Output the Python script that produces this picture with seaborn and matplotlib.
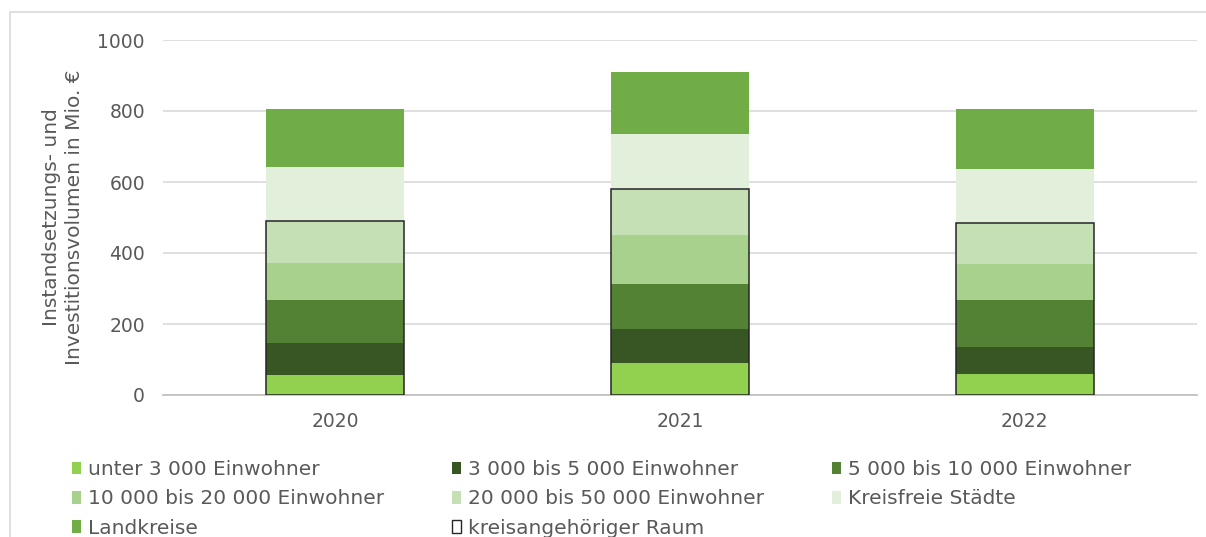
import matplotlib
matplotlib.use("Agg")
import matplotlib.pyplot as plt
from matplotlib.patches import Patch, Rectangle
import numpy as np
import pandas as pd
import seaborn as sns

# Data (Mio. €)
years = ["2020", "2021", "2022"]
unter_3000 = [56, 91, 59]
bis_5000 = [90, 94, 77]
bis_10000 = [122, 128, 132]
bis_20000 = [105, 138, 101]
bis_50000 = [118, 128, 115]
kreisfreie = [150, 155, 152]
landkreise = [166, 177, 171]

series_names = ["unter 3 000 Einwohner", "3 000 bis 5 000 Einwohner",
                "5 000 bis 10 000 Einwohner", "10 000 bis 20 000 Einwohner",
                "20 000 bis 50 000 Einwohner", "Kreisfreie Städte", "Landkreise"]
series_values = [unter_3000, bis_5000, bis_10000, bis_20000, bis_50000,
                 kreisfreie, landkreise]
colors = ["#92D050", "#375623", "#548235", "#A9D18E", "#C5E0B4", "#E2EFDA", "#70AD47"]
raum_name = "kreisangehöriger Raum"

sns.set_theme(style="white")
plt.rcParams['font.family'] = ['DejaVu Sans']
txt = "#595959"

fig = plt.figure(figsize=(12.06, 5.37), dpi=100)
ax = fig.add_axes([163 / 1206, 1 - 395 / 537, 1034 / 1206, 355 / 537])

# stacked bars
bottom = np.zeros(len(years))
for name, vals, col in zip(series_names, series_values, colors):
    df = pd.DataFrame({"Jahr": years, "Wert": vals})
    sns.barplot(data=df, x="Jahr", y="Wert", color=col, saturation=1,
                width=0.4, bottom=bottom, ax=ax, linewidth=0, zorder=3)
    bottom = bottom + np.array(vals)

# outline for kreisangehöriger Raum (first five groups)
raum = np.sum(series_values[:5], axis=0)
df_raum = pd.DataFrame({"Jahr": years, "Wert": raum})
sns.barplot(data=df_raum, x="Jahr", y="Wert", fill=False, width=0.4,
            edgecolor="#262626", linewidth=1.1, ax=ax, zorder=4)

ax.set_xlim(-0.5, 2.5)
ax.set_ylim(0, 1000)
ax.set_yticks([0, 200, 400, 600, 800, 1000])
ax.yaxis.grid(True, color="#D9D9D9", linewidth=1.2, zorder=0)
ax.set_axisbelow(True)
for s in ["top", "right", "left"]:
    ax.spines[s].set_visible(False)
ax.spines["bottom"].set_color("#BFBFBF")
ax.spines["bottom"].set_linewidth(1.2)
ax.tick_params(axis="both", length=0, labelsize=13.5, colors=txt)
ax.tick_params(axis="y", pad=13)
ax.tick_params(axis="x", pad=12)
ax.set_xlabel("")
ax.set_ylabel("Instandsetzungs- und\nInvestitionsvolumen in Mio. €",
              fontsize=14.5, color=txt, linespacing=1.3)
ax.yaxis.set_label_coords(-0.076, 0.5)

# legend, laid out in three columns like the reference
handles = [Patch(facecolor=c, edgecolor="none") for c in colors]
handles.append(Patch(facecolor="white", edgecolor="#262626", linewidth=1))
labels = series_names + [raum_name]
col_idx = [[0, 3, 6], [1, 4, 7], [2, 5]]
col_x = [72, 452, 832]
for idx, x in zip(col_idx, col_x):
    fig.legend([handles[i] for i in idx], [labels[i] for i in idx],
               loc="upper left", bbox_to_anchor=(x / 1206, 1 - 460 / 537),
               frameon=False, fontsize=14.5, handlelength=0.45, handleheight=0.6,
               handletextpad=0.35, labelspacing=0.52, borderpad=0,
               borderaxespad=0, labelcolor=txt)

fig.patches.append(Rectangle((10 / 1206, -0.05), 1.0, 1.05 - 12 / 537,
                             transform=fig.transFigure, fill=False,
                             edgecolor="#D9D9D9", linewidth=1.2))

fig.savefig("out.png", dpi=100)
